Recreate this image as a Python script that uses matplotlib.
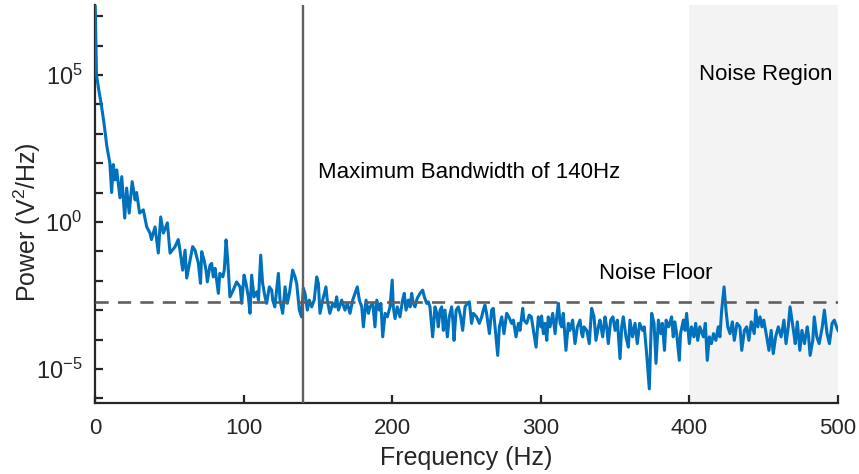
import numpy as np
import matplotlib
matplotlib.use("Agg")
import matplotlib.pyplot as plt
from matplotlib.ticker import FixedLocator, NullFormatter

plt.rcParams['font.family'] = ['Liberation Sans', 'DejaVu Sans']
plt.rcParams['mathtext.fontset'] = 'custom'
plt.rcParams['mathtext.rm'] = 'Liberation Sans'
plt.rcParams['mathtext.it'] = 'Liberation Sans:italic'
plt.rcParams['mathtext.default'] = 'regular'

# spectrum: frequency (Hz) and log10 power (V^2/Hz)
freq = [0, 1, 2.5, 4, 6, 8, 10, 11.2, 12.3, 13.5, 14.6, 16.8, 18, 20, 21.3, 23, 25, 27, 28, 30,
        32.5, 34.8, 37, 38, 40.4, 42.6, 44.2, 46, 48.7, 50.5, 53.8, 56, 57, 59, 60.6, 61.7, 64,
        65.7, 67.3, 69.5, 71, 71.8, 73.4, 74.7, 75.6, 77.4, 78.5, 79.6, 80.8, 83, 84, 86, 87,
        88.2, 89.3, 90.8, 93, 95.3, 97.6, 98.7, 100.3, 101.6, 103.2, 104.3, 105.4, 107, 108.8,
        110, 111.5, 112.8, 114.4, 115.5, 117.3, 118.9, 119.6, 121, 123.4, 124.5, 126.3, 127.9,
        129.4, 130.8, 133, 134.6, 135.7, 137.5, 139, 140.2, 141.3, 142.9, 144.2, 145.8, 147.5,
        149.2, 150.3, 151.4, 153.2, 155.4, 156.3, 158, 160, 161.5, 162.6, 163.8, 166, 168.2,
        169.8, 171.6, 173.4, 175, 176.5, 177.9, 179.5, 180.6, 182.4, 184, 185, 186.9, 188.4,
        189.6, 191.3, 192.4, 193.6, 195.2, 196.7, 198.5, 200, 200.7, 201.9, 203.4, 205.2, 207,
        208.1, 209.3, 210.8, 212, 213.1, 214.2, 215.3, 216.8, 218.7, 220.5, 221.6, 223.2, 224.3,
        225.4, 227.2, 228.8, 230, 231, 232.2, 233.3, 234.4, 235.5, 237.1, 238.4, 240, 240.8,
        241.6, 243, 244.5, 246.1, 247.4, 249, 250.5, 251.9, 253.4, 254.6, 256.8, 258.6, 260.2,
        261.3, 262.4, 263.5, 265.4, 266.9, 268, 269.2, 271, 272.1, 273.7, 275.2, 277, 278.5,
        280.3, 281.5, 283.3, 284.9, 286, 287.8, 288.6, 290.5, 292.2, 293.6, 295, 296.8, 298.3,
        300, 300.5, 301.7, 302.8, 304, 305, 306.2, 308, 309.6, 310.7, 311.8, 313, 314, 315.1,
        316.9, 318.5, 319.6, 321.4, 323, 324.6, 326.4, 327.5, 328.2, 329, 330.9, 332.6, 334.2,
        335.8, 337.1, 338.7, 339.8, 341.6, 343.2, 344.3, 345.4, 347, 348.5, 350, 351.5, 353.3,
        354.4, 355.5, 357.3, 358.9, 360, 361.7, 363.4, 364.9, 366.5, 368.5, 369.6, 371.2, 373,
        373.9, 374.6, 376.2, 377.5, 379.1, 380.7, 381.8, 383.2, 384.3, 386, 388, 389.1, 390.2,
        391.4, 393.2, 394, 395.9, 397, 398.1, 399.9, 401.4, 403, 404.2, 405.6, 407, 409.4,
        410.7, 412, 413.4, 414.8, 416.2, 417.8, 419.4, 420.5, 421.7, 423.3, 424.6, 425.8, 427.3,
        428.9, 430.2, 432, 434, 435.2, 437, 438.5, 440, 441.6, 443.6, 444.6, 446, 447.5, 448.8,
        450, 452, 453.5, 455, 456.4, 458, 459.8, 461.7, 463.6, 465, 466.5, 467.7, 470, 471.2,
        472.6, 474.3, 475.7, 477.4, 479.3, 480.2, 481.2, 483, 484, 485.7, 487.3, 489.4, 490.8,
        492.6, 494.2, 496, 497.5, 499, 500]
logpow = [7.8, 5.0, 4.5, 4.06, 3.38, 2.56, 2.0, 1.0, 1.95, 1.43, 1.77, 0.82, 1.54, 0.13, 1.15,
          0.3, 1.37, 0.75, 1.0, 0.3, 0.41, -0.17, -0.38, -0.6, -0.17, -1.06, 0.17, -0.38, -0.03,
          -1.06, -0.85, -0.6, -0.9, -1.64, -0.96, -1.91, -1.30, -0.84, -0.96, -1.40, -2.09, -1.01,
          -1.30, -1.64, -2.04, -1.47, -1.41, -1.87, -1.58, -2.43, -1.75, -1.87, -1.64, -0.61,
          -1.30, -2.55, -2.32, -2.04, -2.21, -2.77, -1.81, -2.09, -2.55, -3.11, -1.81, -2.55,
          -2.38, -2.66, -1.13, -2.09, -2.55, -2.77, -2.21, -2.32, -2.66, -2.89, -1.75, -2.66,
          -3.11, -2.21, -2.77, -2.43, -1.64, -1.87, -2.09, -3.0, -3.23, -2.25, -2.43, -3.0, -2.66,
          -2.89, -2.66, -1.87, -2.09, -3.11, -2.66, -2.21, -2.66, -3.11, -2.77, -2.89, -2.55,
          -3.0, -2.66, -3.0, -2.77, -3.11, -2.66, -2.43, -2.21, -2.66, -2.89, -3.57, -2.66, -3.11,
          -2.89, -2.77, -3.57, -2.66, -3.0, -2.77, -3.91, -3.11, -3.23, -2.89, -1.98, -2.89,
          -3.29, -2.89, -3.23, -2.66, -2.43, -3.0, -2.66, -2.89, -2.43, -2.77, -2.89, -2.60,
          -2.43, -2.32, -2.55, -2.77, -2.72, -2.89, -3.91, -2.89, -3.11, -3.57, -3.0, -2.89,
          -3.69, -3.0, -3.91, -3.23, -2.89, -3.34, -4.03, -3.0, -2.89, -3.23, -3.69, -2.89, -2.77,
          -2.72, -3.45, -3.11, -3.23, -3.45, -3.23, -3.0, -2.83, -3.11, -3.80, -3.0, -2.94, -3.57,
          -4.54, -3.57, -3.23, -3.80, -3.11, -3.23, -3.45, -3.34, -3.91, -3.45, -3.69, -2.94,
          -3.34, -3.45, -3.17, -3.23, -3.69, -4.26, -3.23, -3.57, -3.2, -3.8, -3.45, -4.03, -3.23,
          -3.57, -3.11, -3.80, -3.23, -2.77, -3.45, -3.57, -3.11, -4.37, -3.45, -3.69, -3.34,
          -4.14, -3.57, -3.34, -3.80, -3.91, -3.57, -3.69, -4.14, -2.94, -3.23, -4.03, -3.57,
          -3.34, -3.91, -3.23, -3.57, -4.14, -3.34, -3.23, -3.69, -3.34, -4.65, -3.57, -3.23,
          -3.91, -4.26, -3.34, -3.91, -3.45, -4.14, -3.45, -3.69, -3.57, -4.48, -5.68, -4.14,
          -3.11, -3.45, -4.81, -3.34, -3.80, -3.45, -4.37, -3.34, -3.57, -3.23, -3.91, -3.40,
          -3.80, -4.71, -3.80, -3.34, -3.69, -3.11, -4.14, -3.57, -3.91, -3.45, -4.03, -3.57,
          -3.91, -3.45, -4.71, -3.91, -4.14, -3.80, -4.03, -3.57, -3.91, -3.0, -2.21, -3.0, -3.57,
          -3.80, -3.40, -4.03, -3.45, -3.57, -4.37, -3.69, -3.57, -4.03, -3.40, -3.80, -3.0,
          -3.57, -3.23, -3.57, -3.34, -3.91, -4.37, -3.69, -4.48, -3.91, -3.57, -3.91, -3.34,
          -4.14, -3.57, -2.89, -3.69, -4.14, -3.40, -4.37, -3.69, -4.14, -3.57, -3.91, -4.54,
          -4.03, -3.23, -3.91, -4.14, -3.57, -3.0, -3.80, -4.14, -3.45, -3.34, -3.57, -3.69]

bandwidth = 140
noise_floor = 10 ** -2.72
noise_region = (400, 500)

power = 10 ** np.array(logpow)

fig = plt.figure(figsize=(8.59, 4.74), dpi=100)
ax = fig.add_axes([0.1106, 0.1498, 0.865, 0.8397])

ax.axvspan(noise_region[0], noise_region[1], color='#f3f3f3', lw=0, zorder=0)
ax.plot(freq, power, color='#0072BD', lw=2.2, zorder=3)
ax.axvline(bandwidth, color='#606060', lw=1.7, zorder=4)
ax.axhline(noise_floor, color='#606060', lw=1.9, ls=(0, (5, 3.5)), zorder=4)

ax.text(150, 10 ** 1.67, 'Maximum Bandwidth of 140Hz', fontsize=16, va='center', ha='left')
ax.text(377, 10 ** -1.77, 'Noise Floor', fontsize=16, va='center', ha='center')
ax.text(451.5, 10 ** 5.0, 'Noise Region', fontsize=16, va='center', ha='center')

ax.set_yscale('log')
ax.set_xlim(0, 500)
ax.set_ylim(10 ** -6.16, 10 ** 7.38)
ax.set_xticks([0, 100, 200, 300, 400, 500])
ax.set_yticks([1e-5, 1e0, 1e5])
ax.yaxis.set_minor_locator(FixedLocator([10.0 ** k for k in range(-6, 8)]))
ax.yaxis.set_minor_formatter(NullFormatter())

for s in ['top', 'right']:
    ax.spines[s].set_visible(False)
for s in ['left', 'bottom']:
    ax.spines[s].set_linewidth(1.6)
    ax.spines[s].set_color('#262626')
ax.tick_params(which='both', direction='in', color='#262626', width=1.6, labelsize=16,
               labelcolor='#262626')
ax.tick_params(axis='x', which='major', length=6, pad=11)
ax.tick_params(axis='y', which='major', length=6, pad=9, labelsize=17)
ax.tick_params(which='minor', length=6)

ax.set_xlabel('Frequency (Hz)', fontsize=18, color='#262626')
ax.xaxis.set_label_coords(0.5, -0.108)
ax.set_ylabel('Power (V$^2$/Hz)', fontsize=18, color='#262626')
ax.yaxis.set_label_coords(-0.07, 0.455)

fig.savefig('out.png', dpi=100)
